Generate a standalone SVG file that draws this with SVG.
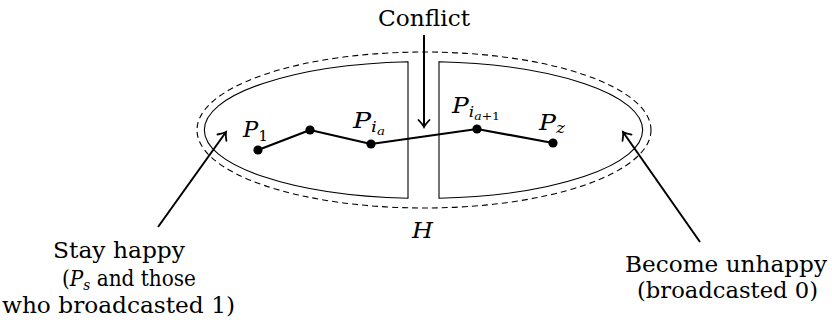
<svg xmlns="http://www.w3.org/2000/svg" width="832" height="327" viewBox="0 0 832 327">
<defs>
<style>
.t{font-family:"DejaVu Serif","Liberation Serif",serif;font-size:22px;fill:#000}
.m{font-family:"DejaVu Serif","Liberation Serif",serif;font-size:22px;font-style:italic;fill:#000}
.s{font-size:15px}
.ss{font-size:11px}
.up{font-style:normal}
.arr{stroke:#000;stroke-width:2;fill:none;marker-end:url(#ah)}
.thin{stroke:#000;stroke-width:1.1;fill:none}
.dash{stroke:#000;stroke-width:1.1;fill:none;stroke-dasharray:6 4}
.path{stroke:#000;stroke-width:2.2;fill:none;stroke-linejoin:round}
.dot{fill:#000}
</style>
<marker id="ah" markerUnits="userSpaceOnUse" markerWidth="20" markerHeight="20" refX="0" refY="0" viewBox="-10 -10 20 20" orient="auto" overflow="visible">
<path d="M-7,-5.5 Q-2.5,-1.2 0,0 Q-2.5,1.2 -7,5.5" stroke="#000" stroke-width="1.8" fill="none" stroke-linecap="round"/>
</marker>
</defs>

<g id="set-H">
<ellipse class="dash" cx="424" cy="130" rx="227" ry="78"/>
<text class="m" x="412" y="238" textLength="21" lengthAdjust="spacingAndGlyphs">H</text>
</g>

<g id="happy-side">
<path class="thin" d="M408,61.7 A220.5,68.5 0 0,0 408,198.3 Z"/>
</g>

<g id="unhappy-side">
<path class="thin" d="M439,61.7 A220.5,68.5 0 0,1 439,198.3 Z"/>
</g>

<g id="connectors">
<line class="arr" x1="424" y1="35" x2="424" y2="127"/>
<line class="arr" x1="158" y1="227" x2="226" y2="132"/>
<line class="arr" x1="700" y1="242" x2="623" y2="132"/>
<polyline class="path" points="258,150 310,130 371,144 477,129 553,143"/>
</g>

<g id="node-P1">
<circle class="dot" cx="258" cy="150" r="4.6"/>
<text class="m" x="243" y="137" textLength="25" lengthAdjust="spacingAndGlyphs">P<tspan class="s up" dy="4">1</tspan></text>
</g>

<g id="node-mid">
<circle class="dot" cx="310" cy="130" r="4.6"/>
</g>

<g id="node-Pia">
<circle class="dot" cx="371" cy="144" r="4.6"/>
<text class="m" x="353" y="128" textLength="32" lengthAdjust="spacingAndGlyphs">P<tspan class="s" dy="4">i</tspan><tspan class="ss" dy="3">a</tspan></text>
</g>

<g id="node-Pia1">
<circle class="dot" cx="477" cy="129" r="4.6"/>
<text class="m" x="452" y="113" textLength="48" lengthAdjust="spacingAndGlyphs">P<tspan class="s" dy="4">i</tspan><tspan class="ss" dy="3">a</tspan><tspan class="ss up">+1</tspan></text>
</g>

<g id="node-Pz">
<circle class="dot" cx="553" cy="143" r="4.6"/>
<text class="m" x="539" y="130" textLength="26" lengthAdjust="spacingAndGlyphs">P<tspan class="s" dy="3">z</tspan></text>
</g>

<g id="label-conflict">
<text class="t" x="378" y="26" textLength="92" lengthAdjust="spacingAndGlyphs">Conflict</text>
</g>

<g id="label-stay">
<text class="t" x="53" y="258" textLength="132" lengthAdjust="spacingAndGlyphs">Stay happy</text>
<text class="t" x="62" y="286" textLength="134" lengthAdjust="spacingAndGlyphs">(<tspan font-style="italic">P</tspan><tspan class="s" font-style="italic" dy="4">s</tspan><tspan dy="-4"> and those</tspan></text>
<text class="t" x="2" y="313" textLength="233" lengthAdjust="spacingAndGlyphs">who broadcasted 1)</text>
</g>

<g id="label-become">
<text class="t" x="625" y="272" textLength="202" lengthAdjust="spacingAndGlyphs">Become unhappy</text>
<text class="t" x="637" y="298" textLength="181" lengthAdjust="spacingAndGlyphs">(broadcasted 0)</text>
</g>
</svg>
